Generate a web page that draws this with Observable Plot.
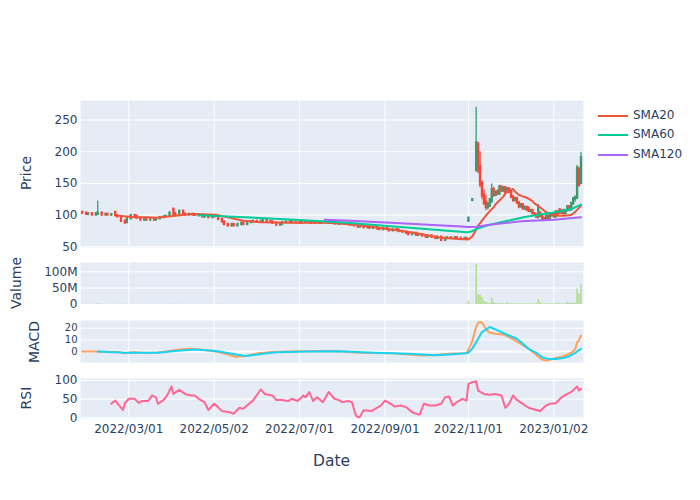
<!DOCTYPE html>
<html><head><meta charset="utf-8">
<script src="https://cdn.jsdelivr.net/npm/d3@7"></script>
<script src="https://cdn.jsdelivr.net/npm/@observablehq/plot@0.6"></script>
<style>
body{margin:0;background:#fff;}
#chart{position:relative;width:700px;height:500px;background:#fff;overflow:hidden;font-family:"DejaVu Sans",Verdana,sans-serif;color:#2a3f5f;}
#chart svg{position:absolute;left:0;}
.ytitle{position:absolute;transform:translate(-50%,-50%) rotate(-90deg);white-space:nowrap;font-size:14px;line-height:1;}
.xtitle{position:absolute;transform:translate(-50%,-50%);white-space:nowrap;font-size:15.5px;line-height:1;}
.leg{position:absolute;left:598px;height:20px;font-size:12px;line-height:1;white-space:nowrap;}
.leg i{position:absolute;left:0;top:9px;width:30px;height:2px;}
.leg span{position:absolute;left:35px;top:3px;}
</style></head><body><div id="chart"></div>
<script>
// ---------- data ----------
const candleDates = [
"2022-01-26","2022-01-28","2022-01-31","2022-02-02","2022-02-04","2022-02-07","2022-02-09","2022-02-11","2022-02-14","2022-02-16",
"2022-02-18","2022-02-21","2022-02-23","2022-02-25","2022-02-28","2022-03-02","2022-03-04","2022-03-07","2022-03-09","2022-03-11",
"2022-03-14","2022-03-16","2022-03-18","2022-03-21","2022-03-23","2022-03-25","2022-03-28","2022-03-30","2022-04-01","2022-04-04",
"2022-04-06","2022-04-08","2022-04-11","2022-04-13","2022-04-15","2022-04-18","2022-04-20","2022-04-22","2022-04-25","2022-04-27",
"2022-04-29","2022-05-02","2022-05-04","2022-05-06","2022-05-09","2022-05-11","2022-05-13","2022-05-16","2022-05-18","2022-05-20",
"2022-05-23","2022-05-25","2022-05-27","2022-05-30","2022-06-01","2022-06-03","2022-06-06","2022-06-08","2022-06-10","2022-06-13",
"2022-06-15","2022-06-17","2022-06-20","2022-06-22","2022-06-24","2022-06-27","2022-06-29","2022-07-01","2022-07-04","2022-07-06",
"2022-07-08","2022-07-11","2022-07-13","2022-07-15","2022-07-18","2022-07-20","2022-07-22","2022-07-25","2022-07-27","2022-07-29",
"2022-08-01","2022-08-03","2022-08-05","2022-08-08","2022-08-10","2022-08-12","2022-08-15","2022-08-17","2022-08-19","2022-08-22",
"2022-08-24","2022-08-26","2022-08-29","2022-08-31","2022-09-02","2022-09-05","2022-09-07","2022-09-09","2022-09-12","2022-09-14",
"2022-09-16","2022-09-19","2022-09-21","2022-09-23","2022-09-26","2022-09-28","2022-09-30","2022-10-03","2022-10-05","2022-10-07",
"2022-10-10","2022-10-12","2022-10-14","2022-10-17","2022-10-19","2022-10-21","2022-10-24","2022-10-26","2022-10-28","2022-10-31",
"2022-11-01","2022-11-03","2022-11-07","2022-11-08","2022-11-09","2022-11-10","2022-11-11","2022-11-14","2022-11-15","2022-11-16",
"2022-11-17","2022-11-18","2022-11-21","2022-11-22","2022-11-23","2022-11-24","2022-11-25","2022-11-28","2022-11-29","2022-11-30",
"2022-12-01","2022-12-02","2022-12-05","2022-12-06","2022-12-07","2022-12-08","2022-12-09","2022-12-12","2022-12-13","2022-12-14",
"2022-12-15","2022-12-16","2022-12-19","2022-12-20","2022-12-21","2022-12-22","2022-12-23","2022-12-26","2022-12-27","2022-12-28",
"2022-12-29","2022-12-30","2023-01-02","2023-01-03","2023-01-04","2023-01-05","2023-01-06","2023-01-09","2023-01-10","2023-01-11",
"2023-01-12","2023-01-13","2023-01-16","2023-01-17","2023-01-18","2023-01-19","2023-01-20"];
const openPx = [
104,103,101,102,100,101,103,100,101,100, 104,99,97,90,88,94,99,98,95,92, 94,92,93,92,94,96,97,98,109,101,
100,106,101,100,101,100,99,100,97,98, 96,99,97,93,89,85,83,85,83,85, 87,85,88,89,90,89,90,91,90,89,
87,84,85,88,89,88,89,88,87,88, 89,88,87,88,87,88,89,87,88,86, 87,86,87,85,84,83,81,82,80,81,
79,80,78,77,79,77,75,77,76,74, 73,71,69,71,68,69,67,65,67,65, 63,65,60,63,64,63,64,63,62,63,
90,123,170,212,176,150,132,120,112,114, 122,140,131,136,133,144,138,143,136,141, 136,128,123,126,119,113,116,110,112,111,
106,107,102,100,96,102,98,94,93,98, 95,99,102,97,105,108,103,106,102,107, 113,108,118,125,127,172,150];
const highPx = [
106,104,103,104,103,122,104,102,102,101, 105,100,98,92,95,100,101,99,96,95, 95,94,94,95,97,98,99,104,110,104,
107,107,103,102,102,101,101,101,99,99, 100,100,98,94,90,86,86,87,86,88, 88,89,90,91,91,91,92,92,91,90,
88,86,89,90,90,90,90,89,89,90, 90,89,89,89,89,90,90,89,89,88, 88,88,88,86,85,84,83,83,82,82,
81,81,79,80,80,78,78,78,77,75, 74,73,72,72,70,70,68,68,68,66, 66,66,64,65,65,65,65,64,64,64,
95,125,270,215,200,154,140,131,120,126, 149,144,138,140,147,146,145,145,143,143, 139,131,128,127,121,118,118,114,113,112,
109,108,104,101,117,105,99,96,99,99, 100,104,104,106,107,110,108,109,108,115, 115,120,128,130,178,175,199];
const lowPx = [
102,100,99,100,99,100,99,99,99,98, 98,96,88,85,87,93,97,94,91,91, 91,91,91,91,93,95,96,97,100,99,
99,100,99,99,99,98,98,96,95,95, 95,96,92,88,84,81,81,82,82,84, 84,84,87,88,88,88,89,89,88,86,
83,82,84,87,87,87,87,86,86,87, 87,86,86,86,86,87,86,85,85,84, 85,84,84,83,82,80,80,79,79,78,
78,77,76,76,76,74,74,75,73,72, 70,68,68,67,66,66,64,64,64,62, 62,58,59,62,62,62,62,61,61,61,
89,122,168,165,143,125,115,107,108,112, 118,128,129,131,132,136,136,134,134,134, 126,120,121,117,110,111,108,107,106,104,
103,101,98,95,94,96,92,91,92,93, 94,97,96,95,99,101,101,100,101,105, 106,107,115,120,125,144,148];
const closePx = [
103,101,102,100,102,103,100,101,100,100.5, 99,97,90,88,94,99,98,95,92,94, 92,93,92,94,96,97,98,103,101,100,
106,101,100,101,100,99.5,100,97,98,96, 99,97,93,89,85,83,85,83,85,87, 85,88,89,90,89,90,91,90,89,87,
84,85,88,89,88,89.5,88,87,88.5,89, 88,87,88,87,88.5,89,87,88,86,87, 86,87,85,84,83,81,82,80,81,79,
80,78,77,79,77,75,77,76,74,73, 71,69,71,68,69,67,65,67,65,63, 65,60,63,64,63,64,63,62,63,62,
95,124,214,170,148,130,118,112,117,124, 140,131,136,133,144,138,143,136,141,136, 128,123,126,119,113,116,110,112,108,106,
107,102,100,97,112,98,94,93,98,95, 99,102,97,105,101,103,106,102,107,113, 108,118,125,127,174,147,190];
const volumeM = [
0.6,0.5,0.5,0.4,0.5,2.5,0.8,0.5,0.4,0.4, 0.6,0.5,0.8,0.7,0.5,0.5,0.4,0.4,0.5,0.4, 0.3,0.3,0.3,0.4,0.3,0.3,0.4,0.6,1.2,0.5,
0.6,0.5,0.3,0.3,0.3,0.3,0.3,0.3,0.3,0.3, 0.3,0.3,0.4,0.5,0.5,0.4,0.3,0.3,0.3,0.3, 0.3,0.3,0.3,0.3,0.3,0.3,0.3,0.3,0.3,0.4,
0.4,0.3,0.3,0.3,0.3,0.3,0.3,0.3,0.3,0.3, 0.3,0.3,0.3,0.3,0.3,0.3,0.3,0.3,0.3,0.3, 0.3,0.3,0.3,0.3,0.3,0.4,0.3,0.3,0.3,0.3,
0.3,0.3,0.3,0.3,0.3,0.3,0.3,0.3,0.3,0.3, 0.3,0.4,0.3,0.3,0.3,0.3,0.4,0.3,0.3,0.3, 0.3,0.5,0.3,0.3,0.3,0.3,0.3,0.3,0.3,0.3,
10.4,1.5,122,30,28,20,9,7,4,3, 19.6,7,3,2.5,3,2,2.5,2,5,2.5, 2,2,1.5,2,2,1.5,2,1.5,1.5,2,
1.5,1.5,2,2.5,15.4,5,2,1.5,2,1.5, 2,2,1.5,2,4,2,2,2,2.5,6, 4,3,5,4,48,33,60];

const sma20Dates = ["2022-02-22","2022-03-04","2022-03-15","2022-03-21","2022-04-04","2022-04-14","2022-05-03","2022-05-11","2022-05-23","2022-06-03",
"2022-06-16","2022-06-28","2022-07-11","2022-07-21","2022-08-08","2022-08-26","2022-09-21","2022-10-11","2022-10-25","2022-11-01",
"2022-11-03","2022-11-07","2022-11-08","2022-11-10","2022-11-14","2022-11-16","2022-11-18","2022-11-21","2022-11-23","2022-11-25",
"2022-11-28","2022-11-30","2022-12-02","2022-12-05","2022-12-07","2022-12-09","2022-12-12","2022-12-14","2022-12-16","2022-12-19",
"2022-12-21","2022-12-23","2022-12-27","2022-12-30","2023-01-04","2023-01-09","2023-01-13","2023-01-17","2023-01-20"];
const sma20 = [99,96.3,96.3,95.5,98.9,101.5,100.5,96.3,91,88.6, 88,87.6,88.3,87.8,85.5,80.4,72.5,64.6,62.2,61.5,
66,77,83,91,99,106,112,117,123,129, 134,139,141,137,131.5,129.5,128.5,126,122,118.5, 114.5,109.5,104.5,101,99,99,100,105,114.5];
const sma60Dates = ["2022-04-20","2022-04-28","2022-05-27","2022-07-01","2022-08-08","2022-09-13","2022-10-12","2022-10-26","2022-10-31","2022-11-01",
"2022-11-03","2022-11-07","2022-11-14","2022-11-28","2022-12-12","2022-12-29","2023-01-13","2023-01-20"];
const sma60 = [99.5,99,96,92,87.5,81,76,73.5,72.8,73.2, 74.5,77.8,83,90,97,103,109.5,116.3];
const sma120Dates = ["2022-07-20","2022-08-08","2022-09-13","2022-10-24","2022-11-01","2022-11-07","2022-11-16","2022-12-08","2023-01-02","2023-01-20"];
const sma120 = [92.6,91,87,82.3,81,81.5,84.7,90,92.6,96.3];

const macdDates = ["2022-01-26","2022-02-04","2022-02-15","2022-02-22","2022-02-25","2022-03-03","2022-03-10","2022-03-22","2022-03-30","2022-04-07",
"2022-04-14","2022-04-22","2022-05-03","2022-05-10","2022-05-17","2022-05-24","2022-06-02","2022-06-13","2022-06-22","2022-07-05",
"2022-07-22","2022-08-02","2022-08-12","2022-08-25","2022-09-07","2022-09-19","2022-09-28","2022-10-07","2022-10-18","2022-10-27",
"2022-10-31","2022-11-01","2022-11-03","2022-11-07","2022-11-08","2022-11-09","2022-11-10","2022-11-11","2022-11-14","2022-11-16",
"2022-11-21","2022-11-25","2022-11-30","2022-12-05","2022-12-08","2022-12-12","2022-12-14","2022-12-19","2022-12-21","2022-12-23",
"2022-12-27","2022-12-30","2023-01-03","2023-01-06","2023-01-10","2023-01-13","2023-01-17","2023-01-18","2023-01-19","2023-01-20"];
const macdLine = [0,0,-0.3,-0.5,-1.5,-0.5,-1,-0.8,0.5,2, 2.3,1.5,0,-2,-4.5,-3.8,-1.5,-0.3,0,0.3,
0.5,0,-1,-1.2,-1.5,-2.5,-3.5,-3,-2,-1.5, -1.2,1.5,9,21,24.5,25.3,24.5,22.4,19,16.2,
15.2,14.7,12.4,9.6,6.5,4.5,2.3,-1.5,-4.5,-6.9, -7.8,-6.6,-5.6,-4.5,-3.4,-1,2,8,9.5,13.8];
const signalDates = ["2022-02-07","2022-02-25","2022-03-22","2022-04-04","2022-04-18","2022-05-03","2022-05-24","2022-06-06","2022-06-15","2022-07-08",
"2022-07-29","2022-08-25","2022-09-19","2022-10-07","2022-10-18","2022-10-31","2022-11-01","2022-11-03","2022-11-07","2022-11-10",
"2022-11-16","2022-11-21","2022-11-29","2022-12-06","2022-12-09","2022-12-14","2022-12-20","2022-12-23","2022-12-28","2023-01-03",
"2023-01-09","2023-01-12","2023-01-17","2023-01-20"];
const signalLine = [0,-1,-1,0.5,1.7,0.5,-3.8,-2,-0.7,0, 0.2,-1,-1.8,-3.2,-2.5,-1.5,-1,2.5,8,16.7,
21,19,14.4,11,6.6,2.3,-1.1,-4.9,-6.3,-6.3, -5.5,-4,-1.1,2.3];

const rsiDates = ["2022-02-16","2022-02-18","2022-02-24","2022-02-25","2022-03-01","2022-03-04","2022-03-08","2022-03-10","2022-03-15","2022-03-17",
"2022-03-21","2022-03-22","2022-03-25","2022-03-29","2022-03-31","2022-04-01","2022-04-06","2022-04-11","2022-04-14","2022-04-18",
"2022-04-20","2022-04-25","2022-04-27","2022-05-02","2022-05-04","2022-05-06","2022-05-12","2022-05-16","2022-05-19","2022-05-23",
"2022-05-26","2022-05-30","2022-06-03","2022-06-07","2022-06-09","2022-06-13","2022-06-15","2022-06-20","2022-06-23","2022-06-27",
"2022-06-30","2022-07-05","2022-07-06","2022-07-08","2022-07-12","2022-07-14","2022-07-19","2022-07-22","2022-07-27","2022-07-29",
"2022-08-02","2022-08-05","2022-08-09","2022-08-11","2022-08-12","2022-08-15","2022-08-17","2022-08-23","2022-08-25","2022-08-30",
"2022-09-01","2022-09-06","2022-09-08","2022-09-13","2022-09-16","2022-09-21","2022-09-26","2022-09-27","2022-09-29","2022-10-04",
"2022-10-07","2022-10-12","2022-10-14","2022-10-18","2022-10-20","2022-10-24","2022-10-27","2022-10-31","2022-11-01","2022-11-03",
"2022-11-07","2022-11-08","2022-11-11","2022-11-16","2022-11-21","2022-11-24","2022-11-28","2022-11-30","2022-12-02","2022-12-06",
"2022-12-09","2022-12-14","2022-12-20","2022-12-22","2022-12-27","2022-12-29","2023-01-03","2023-01-06","2023-01-11","2023-01-13",
"2023-01-18","2023-01-19","2023-01-20"];
const rsiLine = [37.5,46,21,39,51,51,40,45,45,60, 55,37.5,48,62,84,64,75,64,60,60,
51,42,21,37.5,28.6,18,15,10.7,27,24, 37.5,46,76,64,62,60,48,48,45,51,
45,60,55,69,45,55,42,69,51,48, 42,45,42,6,2,2,20,18,24,33,
46,37.5,30,33,28.6,15,9,9,37.5,33, 33,37.5,55,57,33,42,51,46,91,95.5,
98,73,64,62,64,60,27,37.5,60,48, 37.5,27,21,18,33,37.5,39,55,64,69, 84,73,78];

const xTickDates = ["2022-03-01","2022-05-02","2022-07-01","2022-09-01","2022-11-01","2023-01-02"];
const xTickLabels = ["2022/03/01","2022/05/02","2022/07/01","2022/09/01","2022/11/01","2023/01/02"];
const priceTicks = [50,100,150,200,250];
const volumeTicks = [0,50,100];
const macdTicks = [0,10,20];
const rsiTicks = [0,50,100];
const legendNames = ["SMA20","SMA60","SMA120"];

// ---------- helpers ----------
const start = new Date(Date.UTC(2022,0,26));
function tday(s){
  const d = new Date(s + "T00:00:00Z");
  return d3.utcDays(start, d).filter(x => { const w = x.getUTCDay(); return w !== 0 && w !== 6; }).length;
}
const INC = "#3D9970", DEC = "#FF4136";
const C20 = "#EF553B", C60 = "#00CC96", C120 = "#AB63FA";
const CMACD = "#FFA15A", CSIG = "#19D3F3", CRSI = "#FF6692", CVOL = "#b4dc92";
const BG = "#E5ECF6", FONT = "'DejaVu Sans', Verdana, sans-serif";

const candles = candleDates.map((d,i) => ({t: tday(d), o: openPx[i], h: highPx[i], l: lowPx[i], c: closePx[i], v: volumeM[i]}));
const series = (dates, vals) => dates.map((d,i) => ({t: tday(d), v: vals[i]}));
const xTickIdx = xTickDates.map(tday);
const xDomain = [-0.88, 258.3];

const chart = document.getElementById("chart");

function panel({top, height, mt, mb, yDomain, yTicks, yFormat, marks, xAxis, tickFont = 12}) {
  const svg = Plot.plot({
    width: 700, height, marginTop: mt, marginBottom: mb, marginLeft: 80, marginRight: 117,
    style: {background: "transparent", fontFamily: FONT, fontSize: "12px", color: "#2a3f5f", overflow: "visible"},
    x: {type: "linear", domain: xDomain, axis: null},
    y: {type: "linear", domain: yDomain, axis: null},
    color: {type: "identity"},
    marks: [
      Plot.frame({fill: BG, stroke: "none"}),
      Plot.gridX(xTickIdx, {stroke: "white", strokeOpacity: 1, strokeWidth: 1}),
      Plot.gridY(yTicks, {stroke: "white", strokeOpacity: 1, strokeWidth: 1}),
      Plot.axisY(yTicks, {tickSize: 0, tickPadding: 3, tickFormat: yFormat, label: null, fill: "#2a3f5f", fontSize: tickFont}),
      ...marks,
      xAxis ? Plot.axisX(xTickIdx, {tickSize: 0, tickPadding: 6, label: null, fill: "#2a3f5f",
        tickFormat: v => xTickLabels[xTickIdx.indexOf(v)]}) : null
    ]
  });
  svg.style.top = top + "px";
  chart.appendChild(svg);
}

// Price
panel({top: 0, height: 255, mt: 100, mb: 8, yDomain: [48.7, 280.8], yTicks: priceTicks, yFormat: d => String(d),
  marks: [
    Plot.ruleX(candles, {x: "t", y1: "l", y2: "h", stroke: d => d.c >= d.o ? INC : DEC, strokeWidth: 1.3}),
    Plot.ruleX(candles, {x: "t", y1: "o", y2: "c", stroke: d => d.c >= d.o ? INC : DEC, strokeWidth: 2.4, strokeLinecap: "square"}),
    Plot.line(series(sma20Dates, sma20), {x: "t", y: "v", stroke: C20, strokeWidth: 2}),
    Plot.line(series(sma60Dates, sma60), {x: "t", y: "v", stroke: C60, strokeWidth: 2}),
    Plot.line(series(sma120Dates, sma120), {x: "t", y: "v", stroke: C120, strokeWidth: 2})
  ]});
// Volume
panel({top: 255, height: 57, mt: 7, mb: 8, yDomain: [0, 128.4], yTicks: volumeTicks, yFormat: d => d === 0 ? "0" : d + "M",
  marks: [
    Plot.ruleX(candles, {x: "t", y1: 0, y2: "v", stroke: CVOL, strokeWidth: 1.6})
  ]});
// MACD
panel({top: 312, height: 58, mt: 8, mb: 8, yDomain: [-9.4, 26.6], yTicks: macdTicks, yFormat: d => String(d), tickFont: 10,
  marks: [
    Plot.ruleY([0], {stroke: "white", strokeWidth: 2}),
    Plot.line(series(macdDates, macdLine), {x: "t", y: "v", stroke: CMACD, strokeWidth: 2}),
    Plot.line(series(signalDates, signalLine), {x: "t", y: "v", stroke: CSIG, strokeWidth: 2})
  ]});
// RSI
panel({top: 370, height: 75, mt: 8, mb: 27, yDomain: [-1.9, 105.4], yTicks: rsiTicks, yFormat: d => String(d), xAxis: true,
  marks: [
    Plot.line(series(rsiDates, rsiLine), {x: "t", y: "v", stroke: CRSI, strokeWidth: 2})
  ]});

// Axis titles
const titles = [["Price", 25.8, 172.5], ["Valume", 15.8, 282.5], ["MACD", 33.8, 341.7], ["RSI", 26.2, 398.3]];
for (const [txt, x, y] of titles) {
  const d = document.createElement("div"); d.className = "ytitle"; d.textContent = txt;
  d.style.left = x + "px"; d.style.top = y + "px"; chart.appendChild(d);
}
const xt = document.createElement("div"); xt.className = "xtitle"; xt.textContent = "Date";
xt.style.left = "331.5px"; xt.style.top = "462px"; chart.appendChild(xt);

// Legend
const legColors = [C20, C60, C120];
legendNames.forEach((name, i) => {
  const d = document.createElement("div"); d.className = "leg";
  d.style.top = (106 + i * 19.4) + "px";
  d.innerHTML = `<i style="background:${legColors[i]}"></i><span>${name}</span>`;
  chart.appendChild(d);
});
</script></body></html>
